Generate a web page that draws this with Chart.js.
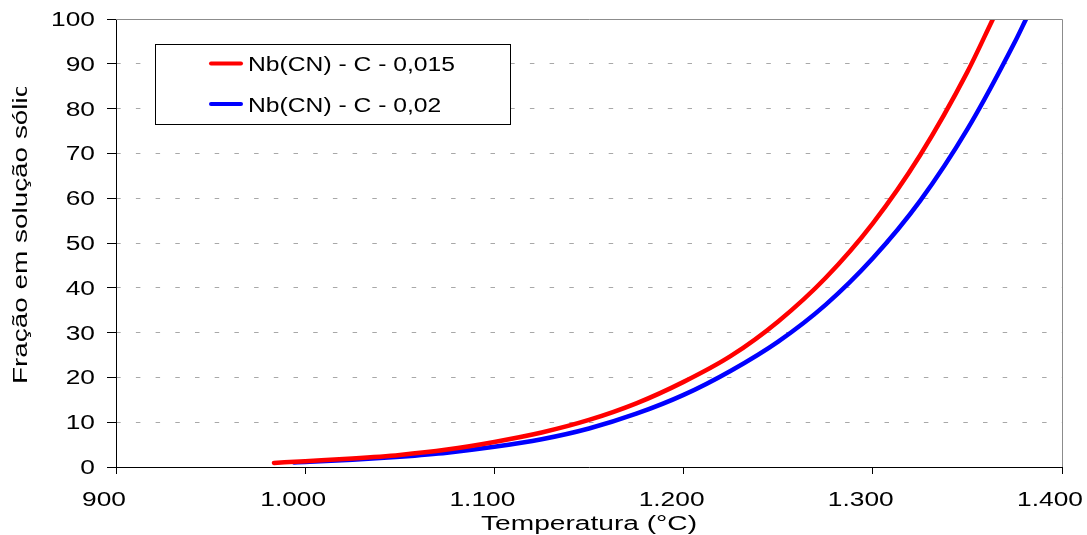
<!DOCTYPE html>
<html>
<head>
<meta charset="utf-8">
<script src="https://cdn.jsdelivr.net/npm/chart.js@4"></script>
<style>
html,body{margin:0;padding:0;background:#fff;}
#wrap{width:1087px;height:535px;}
</style>
</head>
<body>
<div id="wrap"><canvas id="c" width="1087" height="535"></canvas></div>
<script>
// ---- data ----
const seriesLabels = ['Nb(CN) - C - 0,015', 'Nb(CN) - C - 0,02'];
const tempRed  = [983.5, 1000, 1025, 1050, 1075, 1100, 1125, 1150, 1175, 1200, 1225, 1250, 1275, 1300, 1325, 1350, 1363.5];
const fracRed  = [0.9,   1.3,  1.9,  2.7,  3.9,  5.6,  7.7,  10.5, 14.2, 19.0, 24.8, 32.5, 42.2, 54.4, 69.6, 88.2, 100];
const tempBlue = [994,   1000, 1025, 1050, 1075, 1100, 1125, 1150, 1175, 1200, 1225, 1250, 1275, 1300, 1325, 1350, 1375, 1381];
const fracBlue = [1.0,   1.1,  1.6,  2.3,  3.2,  4.5,  6.2,  8.6,  11.9, 16.1, 21.5, 28.0, 36.2, 46.6, 59.4, 75.4, 94.8, 100];
const xTickLabels = ['900', '1.000', '1.100', '1.200', '1.300', '1.400'];
const yTickLabels = ['0','10','20','30','40','50','60','70','80','90','100'];
const xTitle = 'Temperatura (°C)';
const yTitle = 'Fração em solução sólida';

const FONT = '"Liberation Sans", Arial, sans-serif';
function drawText(ctx, s, x, y, size, sx, align) {
  ctx.save();
  ctx.font = size + 'px ' + FONT;
  ctx.translate(x, y);
  ctx.scale(sx, 1);
  ctx.textAlign = align;
  ctx.textBaseline = 'alphabetic';
  ctx.fillStyle = '#000';
  ctx.fillText(s, 0, 0);
  ctx.restore();
}
function widthOf(ctx, s, size) {
  ctx.save(); ctx.font = size + 'px ' + FONT;
  const w = ctx.measureText(s).width; ctx.restore(); return w;
}

const decor = {
  id: 'decor',
  afterDraw(chart) {
    const ctx = chart.ctx, a = chart.chartArea;
    const xs = chart.scales.x, ys = chart.scales.y;
    // top and right frame
    ctx.save();
    ctx.strokeStyle = '#8c8c8c'; ctx.lineWidth = 1;
    ctx.beginPath();
    ctx.moveTo(a.left, a.top + 0.5); ctx.lineTo(a.right + 0.5, a.top + 0.5);
    ctx.lineTo(a.right + 0.5, a.bottom);
    ctx.stroke();
    ctx.restore();
    // y tick labels
    ys.ticks.forEach((t, i) => {
      const py = ys.getPixelForValue(t.value);
      drawText(ctx, yTickLabels[i], 95, py + 7, 19.5, 1.35, 'right');
    });
    // x tick labels
    xs.ticks.forEach((t, i) => {
      const px = xs.getPixelForValue(t.value);
      drawText(ctx, xTickLabels[i], px - 12, 506, 19.5, 1.35, 'center');
    });
    // x title
    const wx = widthOf(ctx, xTitle, 19.5);
    drawText(ctx, xTitle, (a.left + a.right) / 2, 530, 19.5, 216 / wx, 'center');
    // y title (clipped)
    ctx.save();
    ctx.beginPath(); ctx.rect(0, 87, 60, 448); ctx.clip();
    ctx.translate(27, 384); ctx.rotate(-Math.PI / 2);
    drawText(ctx, yTitle, 0, 0, 19.5, 1.43, 'left');
    ctx.restore();
    // legend
    ctx.save();
    ctx.fillStyle = '#fff';
    ctx.fillRect(155.5, 44.5, 355, 80);
    ctx.strokeStyle = '#000'; ctx.lineWidth = 1;
    ctx.strokeRect(155.5, 44.5, 355, 80);
    const lw = widthOf(ctx, seriesLabels[0], 20);
    const lsx = 207 / lw;
    const rows = [63.5, 104];
    chart.data.datasets.forEach((ds, i) => {
      ctx.strokeStyle = ds.borderColor; ctx.lineWidth = 4; ctx.lineCap = 'round';
      ctx.beginPath(); ctx.moveTo(211, rows[i]); ctx.lineTo(241, rows[i]); ctx.stroke();
      drawText(ctx, ds.label, 248, rows[i] + 7.5, 20, lsx, 'left');
    });
    ctx.restore();
  }
};

const toPts = (xs, ys) => xs.map((x, i) => ({x: x, y: ys[i]}));

new Chart(document.getElementById('c'), {
  type: 'scatter',
  data: {
    datasets: [
      { label: seriesLabels[0], data: toPts(tempRed, fracRed), borderColor: '#ff0000', backgroundColor: '#ff0000',
        showLine: true, pointRadius: 0, borderWidth: 4.5, cubicInterpolationMode: 'monotone', borderCapStyle: 'round' },
      { label: seriesLabels[1], data: toPts(tempBlue, fracBlue), borderColor: '#0000ff', backgroundColor: '#0000ff',
        showLine: true, pointRadius: 0, borderWidth: 4.5, cubicInterpolationMode: 'monotone', borderCapStyle: 'round' }
    ]
  },
  options: {
    responsive: false,
    animation: false,
    events: [],
    layout: { padding: { top: 19, right: 25, left: 0, bottom: 0 } },
    plugins: { legend: { display: false }, tooltip: { enabled: false }, title: { display: false } },
    scales: {
      x: {
        type: 'linear', min: 900, max: 1400,
        ticks: { stepSize: 100, display: false },
        grid: { display: true, drawOnChartArea: false, drawTicks: true, tickLength: 7, tickColor: '#000', tickWidth: 1 },
        border: { display: true, color: '#000', width: 1 },
        afterFit: s => { s.height = 68; s.paddingLeft = 0; s.paddingRight = 0; }
      },
      y: {
        type: 'linear', min: 0, max: 100,
        ticks: { stepSize: 10, display: false },
        grid: {
          display: true, drawTicks: true, tickLength: 9, tickColor: '#000', tickWidth: 1,
          color: c => (c.tick && (c.tick.value === 0 || c.tick.value === 100)) ? 'rgba(0,0,0,0)' : '#a8a8a8',
          lineWidth: 1
        },
        border: { display: true, color: '#000', width: 1, dash: [4.5, 15.2], dashOffset: 0.8 },
        afterFit: s => { s.width = 116; s.paddingTop = 0; s.paddingBottom = 0; }
      }
    }
  },
  plugins: [decor]
});
</script>
</body>
</html>
